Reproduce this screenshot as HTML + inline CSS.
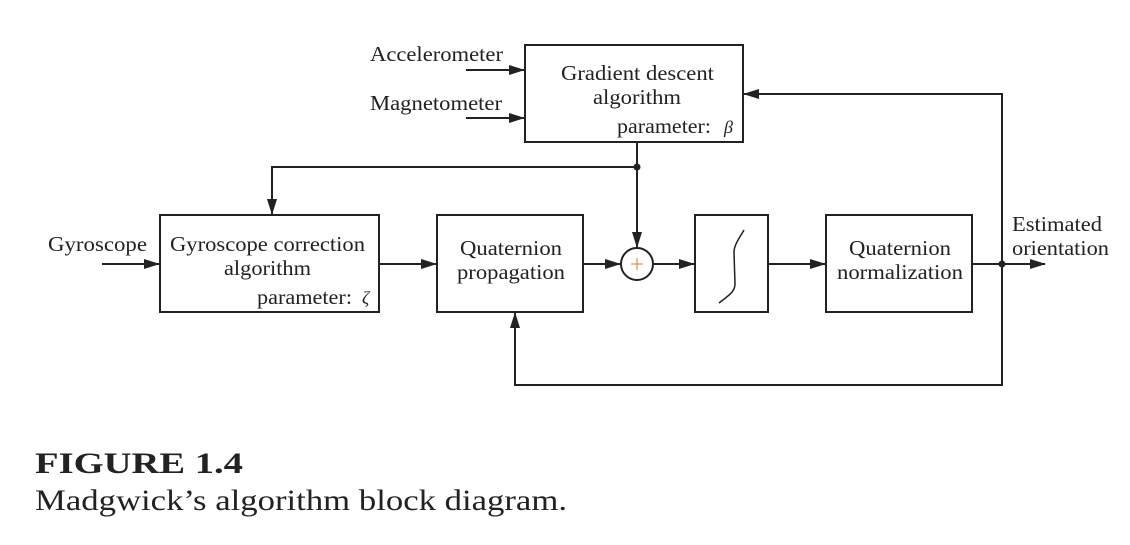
<!DOCTYPE html>
<html><head><style>
html,body{margin:0;padding:0;background:#fff;}
svg{display:block;}
text{font-family:"Liberation Serif",serif;fill:#222;}
</style></head><body>
<svg width="1130" height="545" viewBox="0 0 1130 545" xmlns="http://www.w3.org/2000/svg">
<defs>
<marker id="a" markerWidth="16" markerHeight="10" refX="15" refY="5" orient="auto" markerUnits="userSpaceOnUse">
<path d="M0,0 L16,5 L0,10 Z" fill="#222"/></marker>
</defs>
<g stroke="#222" stroke-width="2" fill="none">
<rect x="525" y="45" width="218" height="97"/>
<rect x="160" y="215" width="219" height="97"/>
<rect x="437" y="215" width="146" height="97"/>
<rect x="695" y="215" width="73" height="97"/>
<rect x="826" y="215" width="146" height="97"/>
<circle cx="637" cy="264" r="16"/>
<line x1="466" y1="70" x2="524" y2="70" marker-end="url(#a)"/>
<line x1="466" y1="118" x2="524" y2="118" marker-end="url(#a)"/>
<line x1="102" y1="264" x2="159" y2="264" marker-end="url(#a)"/>
<line x1="637" y1="142" x2="637" y2="247" marker-end="url(#a)"/>
<polyline points="637,167 272,167 272,214" marker-end="url(#a)"/>
<line x1="379" y1="264" x2="436" y2="264" marker-end="url(#a)"/>
<line x1="583" y1="264" x2="620" y2="264" marker-end="url(#a)"/>
<line x1="653" y1="264" x2="694" y2="264" marker-end="url(#a)"/>
<line x1="768" y1="264" x2="825" y2="264" marker-end="url(#a)"/>
<line x1="972" y1="264" x2="1045" y2="264" marker-end="url(#a)"/>
<polyline points="1002,264 1002,94 744,94" marker-end="url(#a)"/>
<polyline points="1002,264 1002,385 515,385 515,313" marker-end="url(#a)"/>
<path d="M719,303 C728,296 735,292 735,284 L734,252 C734,245 740,237 744,230" stroke-width="1.5"/>
<line x1="631" y1="264" x2="643" y2="264" stroke="#d08030" stroke-width="1"/>
<line x1="637" y1="258" x2="637" y2="270" stroke="#d08030" stroke-width="1"/>
</g>
<circle cx="637" cy="167" r="3.5" fill="#222"/>
<circle cx="1002" cy="264" r="3.5" fill="#222"/>
<g font-size="21" lengthAdjust="spacingAndGlyphs">
<text x="370" y="61" textLength="133" lengthAdjust="spacingAndGlyphs">Accelerometer</text>
<text x="370" y="110" textLength="132" lengthAdjust="spacingAndGlyphs">Magnetometer</text>
<text x="48" y="251" textLength="99" lengthAdjust="spacingAndGlyphs">Gyroscope</text>
<text x="561" y="80" textLength="153" lengthAdjust="spacingAndGlyphs">Gradient descent</text>
<text x="593" y="104" textLength="88" lengthAdjust="spacingAndGlyphs">algorithm</text>
<text x="617" y="133" textLength="94" lengthAdjust="spacingAndGlyphs">parameter:</text>
<text x="724" y="133" font-style="italic" font-size="18">β</text>
<text x="170" y="251" textLength="195" lengthAdjust="spacingAndGlyphs">Gyroscope correction</text>
<text x="224" y="275" textLength="87" lengthAdjust="spacingAndGlyphs">algorithm</text>
<text x="257" y="304" textLength="95" lengthAdjust="spacingAndGlyphs">parameter:</text>
<text x="362" y="304" font-style="italic" font-size="18">ζ</text>
<text x="460" y="255" textLength="102" lengthAdjust="spacingAndGlyphs">Quaternion</text>
<text x="457" y="279" textLength="108" lengthAdjust="spacingAndGlyphs">propagation</text>
<text x="849" y="255" textLength="102" lengthAdjust="spacingAndGlyphs">Quaternion</text>
<text x="837" y="279" textLength="126" lengthAdjust="spacingAndGlyphs">normalization</text>
<text x="1012" y="231" textLength="90" lengthAdjust="spacingAndGlyphs">Estimated</text>
<text x="1012" y="255" textLength="97" lengthAdjust="spacingAndGlyphs">orientation</text>
</g>
<text x="35" y="473" font-size="30" font-weight="bold" textLength="208" lengthAdjust="spacingAndGlyphs">FIGURE 1.4</text>
<text x="35" y="510" font-size="30" textLength="532" lengthAdjust="spacingAndGlyphs">Madgwick’s algorithm block diagram.</text>
</svg>
</body></html>
